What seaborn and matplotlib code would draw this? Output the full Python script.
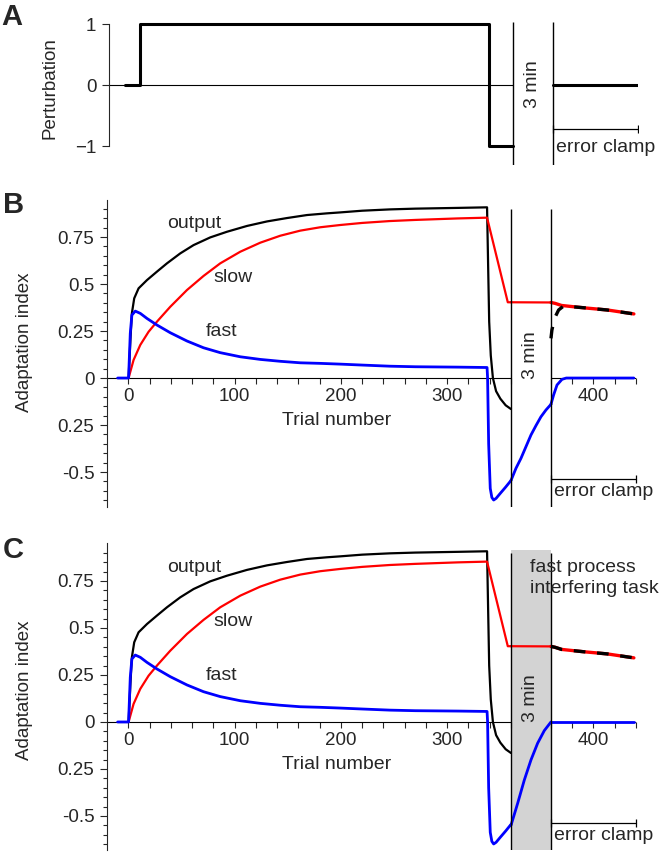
import numpy as np
import matplotlib
matplotlib.use("Agg")
import matplotlib.pyplot as plt
import seaborn as sns

# Break handling: the 3-minute pause is drawn as a gap on the trial axis
BREAK = 360          # last trial before the pause
GAP = 37.6           # width of the pause on the x axis (trial units)
BREAK_MIN = 3.0      # pause length (min)

# --- Panel A : perturbation schedule
pert_trial = [-5, 9, 9, 337, 337, 360]
pert_val = [0, 0, 1, 1, -1, -1]
pert_post_trial = [360, 440]
pert_post_val = [0, 0]

# --- Panels B/C : model states before the pause (trial number)
fast_trial = [-10, 0.3, 1.9, 3.4, 6.6, 11.3, 17.6, 27, 39.5, 55.2, 70.8, 86.5, 105.4, 124.2,
              143, 161.8, 180.6, 199.4, 220, 246, 270, 310, 337.5, 338, 339, 340.5, 342,
              343.7, 346, 350, 355, 360]
fast_val = [0, 0, 0.238, 0.335, 0.356, 0.344, 0.317, 0.282, 0.241, 0.197, 0.161, 0.135, 0.113,
            0.099, 0.089, 0.081, 0.078, 0.074, 0.069, 0.063, 0.060, 0.058, 0.056, 0.0, -0.35,
            -0.587, -0.635, -0.649, -0.64, -0.613, -0.58, -0.545]

slow_trial = [0.3, 5, 11.3, 19.1, 27, 39.5, 55.2, 70.8, 86.5, 105.4, 124.2, 143, 161.8, 180.6,
              199.4, 220, 246, 270, 310, 337.5, 357, 360]
slow_val = [0.0, 0.096, 0.176, 0.246, 0.3, 0.379, 0.468, 0.543, 0.61, 0.672, 0.72, 0.757, 0.784,
            0.802, 0.814, 0.825, 0.835, 0.841, 0.849, 0.853, 0.403, 0.403]

out_trial = [0.3, 2, 3.4, 5.6, 9.7, 17.6, 27, 36.4, 48.9, 61.4, 77.1, 92.8, 111.7, 130.5,
             149.3, 168.1, 186.9, 199.4, 220, 246, 270, 310, 337.5, 338.5, 339.5, 341, 343,
             346, 350, 355, 360]
out_val = [0, 0.2, 0.344, 0.424, 0.477, 0.521, 0.566, 0.61, 0.663, 0.707, 0.748, 0.778, 0.809,
           0.833, 0.851, 0.867, 0.876, 0.881, 0.89, 0.897, 0.901, 0.905, 0.908, 0.6, 0.3,
           0.12, 0.0, -0.07, -0.11, -0.145, -0.165]

# during the pause (minutes)
slow_break_min = [0, 3]
slow_break_val = [0.403, 0.402]
fast_break_min_b = [0, 0.375, 0.75, 1.125, 1.5, 1.875, 2.25, 2.625, 3.0]
fast_break_b = [-0.545, -0.48, -0.427, -0.365, -0.303, -0.253, -0.206, -0.17, -0.14]
fast_break_min_c = [0, 0.5, 1.0, 1.5, 2.0, 2.5, 3.0]
fast_break_c = [-0.55, -0.433, -0.309, -0.202, -0.113, -0.046, 0.0]

# after the pause, error clamp (trial number)
slow_post_trial = [360, 364, 370, 390, 413, 438]
slow_post_val = [0.402, 0.397, 0.386, 0.374, 0.362, 0.341]
fast_post_trial_b = [360, 362.5, 365.7, 370.4, 374.4, 438]
fast_post_b = [-0.14, -0.09, -0.037, -0.007, 0, 0]
out_post_trial_b = [360, 360.9, 363.4, 367.2, 371.9, 390.7, 412.7, 438]
out_post_b = [0.211, 0.255, 0.318, 0.362, 0.383, 0.374, 0.362, 0.341]
fast_post_trial_c = [360, 438]
fast_post_c = [0, 0]
out_post_trial_c = slow_post_trial
out_post_c = slow_post_val

clamp_trials = [360, 440]

x_major = [0, 100, 200, 300, 400]
y_major = [-0.5, -0.25, 0, 0.25, 0.5, 0.75]
y_major_lab = ['-0.5', '0.25', '0', '0.25', '0.5', '0.75']

RED = '#ff0000'
BLUE = '#0000ff'

sns.set_style('ticks')
plt.rcParams['font.family'] = ['Liberation Sans', 'DejaVu Sans']
plt.rcParams['axes.linewidth'] = 0.8


def post(t):
    return np.asarray(t, dtype=float) + GAP


def during(m):
    return BREAK + np.asarray(m, dtype=float) / BREAK_MIN * GAP


def curve(ax, x, y, color, lw, ls='-', z=2):
    sns.lineplot(x=np.asarray(x, dtype=float), y=y, ax=ax, color=color, linewidth=lw,
                 linestyle=ls, estimator=None, sort=False, legend=False, zorder=z)


W, H = 662, 852
fig = plt.figure(figsize=(W / 100, H / 100), dpi=100)
XLIM = (-20, 440 + GAP)
px_w = 529

ax_a = fig.add_axes([109 / W, (H - 165) / H, px_w / W, 143 / H])
ax_b = fig.add_axes([107 / W, (H - 507) / H, px_w / W, 307 / H])
ax_c = fig.add_axes([107 / W, (H - 850) / H, px_w / W, 307 / H])

# ---------------- Panel A
ax = ax_a
ax.set_xlim(*XLIM)
ax.set_ylim(-1.31, 1.033)
ax.hlines(0, XLIM[0], BREAK, color='k', lw=0.8)
curve(ax, pert_trial, pert_val, 'k', 2.2)
curve(ax, post(pert_post_trial), pert_post_val, 'k', 2.2)
ax.vlines([BREAK, BREAK + GAP], -1.31, 1.033, color='k', lw=1.0)
for s in ['top', 'right', 'bottom']:
    ax.spines[s].set_visible(False)
ax.spines['left'].set_bounds(-1, 1)
ax.set_xticks([])
ax.set_yticks([-1, 0, 1])
ax.set_yticklabels(['\u22121', '0', '1'])
ax.tick_params(axis='y', direction='out', length=5, width=0.8, labelsize=13.5, pad=4)
ax.set_ylabel('Perturbation', fontsize=13.5)
ax.yaxis.set_label_coords(-0.096, 0.54)
ax.text(BREAK + GAP / 2, 0.02, '3 min', rotation=90, ha='center', va='center', fontsize=14)
ax.plot(post(clamp_trials), [-0.72, -0.72], color='k', lw=0.9, marker='|', ms=6, mew=0.9)
ax.text(BREAK + GAP + 3, -1.02, 'error clamp', ha='left', va='center', fontsize=14)


# ---------------- Panels B and C
def state_panel(ax, ylim, fast_bm, fast_bv, fast_pt, fast_pv, out_pt, out_pv,
                three_y, shaded):
    ax.set_xlim(*XLIM)
    ax.set_ylim(*ylim)
    if shaded:
        ax.fill_between([BREAK, BREAK + GAP], ylim[0], 0.915, color='#d3d3d3', lw=0, zorder=0)
    # pre-break
    curve(ax, out_trial, out_val, 'k', 1.6)
    curve(ax, slow_trial, slow_val, RED, 1.6)
    curve(ax, fast_trial, fast_val, BLUE, 2.0, z=3)
    # pause
    curve(ax, during(slow_break_min), slow_break_val, RED, 1.6)
    curve(ax, during(fast_bm), fast_bv, BLUE, 2.0, z=3)
    # error clamp
    curve(ax, post(slow_post_trial), slow_post_val, RED, 2.4)
    curve(ax, post(out_pt), out_pv, 'k', 2.4, ls=(0, (3.5, 3.5)), z=3)
    curve(ax, post(fast_pt), fast_pv, BLUE, 2.0, z=3)

    ax.vlines([BREAK, BREAK + GAP], ylim[0], 0.90, color='k', lw=1.0, zorder=4)
    # broken x axis at y = 0
    ax.hlines([0, 0], [XLIM[0], BREAK + GAP], [BREAK, 440 + GAP], color='k', lw=0.8, zorder=1)
    for s in ['top', 'right']:
        ax.spines[s].set_visible(False)
    ax.spines['bottom'].set_position(('data', 0))
    ax.spines['bottom'].set_color('none')

    ax.set_xticks([x if x < BREAK else x + GAP for x in x_major])
    ax.set_xticklabels([str(x) for x in x_major])
    minor = [t for t in range(20, BREAK + 1, 20)] + [t + GAP for t in range(BREAK, 441, 20)]
    ax.set_xticks(minor, minor=True)
    ax.set_yticks(y_major)
    ax.set_yticklabels(y_major_lab)
    ax.set_yticks(np.arange(-0.65, 0.91, 0.05), minor=True)
    ax.tick_params(axis='x', which='both', direction='out', length=4, width=0.8,
                   labelsize=13.5, pad=3)
    ax.tick_params(axis='y', which='major', direction='out', length=5, width=0.8,
                   labelsize=13.5, pad=4)
    ax.tick_params(axis='y', which='minor', direction='out', length=3, width=0.8)
    ax.set_ylabel('Adaptation index', fontsize=13.5)
    ax.set_xlabel('')

    ax.text(62, 0.824, 'output', ha='center', va='center', fontsize=14)
    ax.text(99, 0.537, 'slow', ha='center', va='center', fontsize=14)
    ax.text(88, 0.245, 'fast', ha='center', va='center', fontsize=14)
    ax.text(196.4, -0.225, 'Trial number', ha='center', va='center', fontsize=14)
    ax.text(BREAK + GAP / 2, three_y, '3 min', rotation=90, ha='center', va='center',
            fontsize=14, zorder=5)
    ax.plot(post(clamp_trials), [-0.537, -0.537], color='k', lw=0.9, marker='|', ms=6,
            mew=0.9, clip_on=False)
    ax.text(BREAK + GAP + 3, -0.605, 'error clamp', ha='left', va='center', fontsize=14)


state_panel(ax_b, (-0.686, 0.947), fast_break_min_b, fast_break_b,
            fast_post_trial_b, fast_post_b, out_post_trial_b, out_post_b, 0.122, False)
ax_b.yaxis.set_label_coords(-0.14, 0.538)

state_panel(ax_c, (-0.681, 0.952), fast_break_min_c, fast_break_c,
            fast_post_trial_c, fast_post_c, out_post_trial_c, out_post_c, 0.128, True)
ax_c.yaxis.set_label_coords(-0.14, 0.521)
ax_c.text(377.9, 0.765, 'fast process\ninterfering task', ha='left', va='center',
          fontsize=14, linespacing=1.3, zorder=6)

for letter, x, base in [('A', 1.5, 25), ('B', 3, 213), ('C', 3, 558)]:
    fig.text(x / W, 1 - base / H, letter, ha='left', va='baseline', fontsize=21,
             fontweight='bold')

fig.savefig('out.png', dpi=100)
